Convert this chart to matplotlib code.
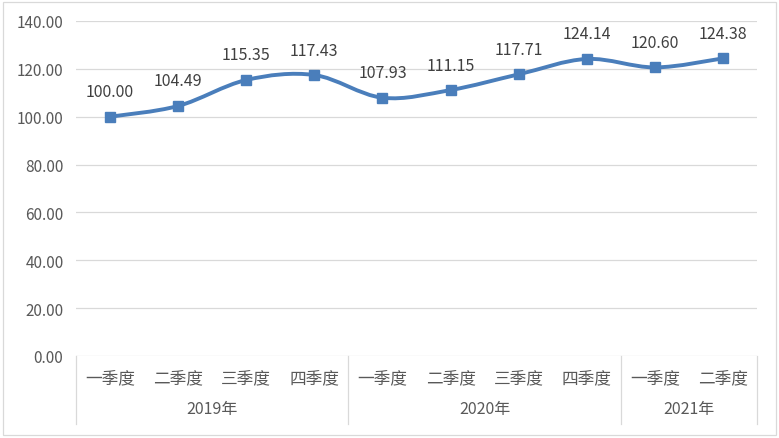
import matplotlib.pyplot as plt
import numpy as np
from matplotlib.path import Path
from matplotlib.patches import PathPatch, Rectangle
from matplotlib.lines import Line2D

plt.rcParams['font.family'] = ['Noto Sans CJK SC', 'DejaVu Sans']

quarters = ['一季度', '二季度', '三季度', '四季度', '一季度', '二季度', '三季度', '四季度', '一季度', '二季度']
years = ['2019年', '2020年', '2021年']
year_sizes = [4, 4, 2]
values = [100.00, 104.49, 115.35, 117.43, 107.93, 111.15, 117.71, 124.14, 120.60, 124.38]

line_color = '#4A7EBB'
grid_color = '#D9D9D9'
text_color = '#595959'

W, H = 779, 439
fig = plt.figure(figsize=(W / 100, H / 100), dpi=100)
ax = fig.add_axes([76 / W, (H - 357) / H, (757 - 76) / W, (357 - 22) / H])

n = len(values)
x = np.arange(n)
y = np.array(values)

# Excel-style smoothed line: Catmull-Rom converted to cubic Bezier
verts = [(x[0], y[0])]
codes = [Path.MOVETO]
for i in range(n - 1):
    p0 = np.array([x[max(i - 1, 0)], y[max(i - 1, 0)]])
    p1 = np.array([x[i], y[i]])
    p2 = np.array([x[i + 1], y[i + 1]])
    p3 = np.array([x[min(i + 2, n - 1)], y[min(i + 2, n - 1)]])
    c1 = p1 + (p2 - p0) / 6
    c2 = p2 - (p3 - p1) / 6
    verts += [tuple(c1), tuple(c2), tuple(p2)]
    codes += [Path.CURVE4] * 3
ax.add_patch(PathPatch(Path(verts, codes), fill=False, edgecolor=line_color,
                       linewidth=2.8, capstyle='round', joinstyle='round', zorder=3))
ax.plot(x, y, linestyle='none', marker='s', markersize=7, color=line_color, zorder=4)

for xi, yi in zip(x, y):
    ax.annotate(f'{yi:.2f}', (xi, yi), xytext=(0, 18), textcoords='offset points',
                ha='center', va='center', fontsize=11.5, color='#404040')

ax.set_xlim(-0.5, n - 0.5)
ax.set_ylim(0, 140)
ax.set_yticks(np.arange(0, 141, 20))
ax.set_yticklabels([f'{v:.2f}' for v in np.arange(0, 141, 20)], fontsize=11, color=text_color)
ax.tick_params(axis='y', length=0, pad=9)
ax.set_xticks([])
ax.grid(axis='y', color=grid_color, linewidth=0.9)
ax.set_axisbelow(True)
for s in ax.spines.values():
    s.set_visible(False)

# multi-level category axis
tr = ax.get_xaxis_transform()
for xi, q in zip(x, quarters):
    ax.text(xi, -22 / 335, q, transform=tr, ha='center', va='center',
            fontsize=12, color=text_color)
start = 0
bounds = [-0.5]
for yr, size in zip(years, year_sizes):
    mid = start + (size - 1) / 2
    ax.text(mid, -53 / 335, yr, transform=tr, ha='center', va='center',
            fontsize=11.5, color=text_color)
    start += size
    bounds.append(start - 0.5)
for b in bounds:
    ax.add_line(Line2D([b, b], [0, -68 / 335], transform=tr, color=grid_color,
                       linewidth=0.9, clip_on=False))

# chart border
fig.patches.append(Rectangle((3 / W, 3 / H), (W - 6) / W, (H - 6) / H, transform=fig.transFigure,
                             fill=False, edgecolor=grid_color, linewidth=0.9))

fig.savefig('out.png', dpi=100)
